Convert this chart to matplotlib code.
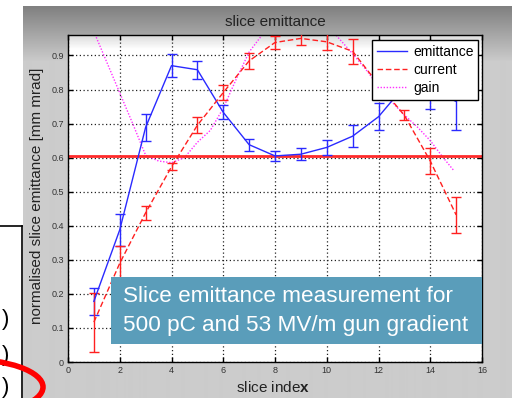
import numpy as np
import matplotlib.pyplot as plt
from matplotlib.patches import Rectangle, Ellipse
from matplotlib.lines import Line2D

plt.rcParams['font.family'] = ['Liberation Sans', 'DejaVu Sans']
plt.rcParams['mathtext.fontset'] = 'custom'
plt.rcParams['mathtext.rm'] = 'Liberation Sans'
plt.rcParams['mathtext.bf'] = 'Liberation Sans:bold'

# slice index
slices = np.arange(1, 16)

# normalised slice emittance [mm mrad] and its error
emittance = [0.178, 0.388, 0.689, 0.870, 0.858, 0.733, 0.638, 0.605,
             0.610, 0.630, 0.663, 0.720, 0.810, 0.800, 0.765]
emittance_err = [0.040, 0.047, 0.040, 0.034, 0.027, 0.021, 0.018, 0.015,
                 0.017, 0.023, 0.032, 0.039, 0.030, 0.056, 0.085]

# slice current (normalised) and its error
current = [0.117, 0.290, 0.438, 0.573, 0.695, 0.791, 0.884, 0.938,
           0.950, 0.940, 0.912, 0.815, 0.724, 0.590, 0.432]
current_err = [0.087, 0.050, 0.020, 0.010, 0.023, 0.021, 0.023, 0.020,
               0.020, 0.025, 0.036, 0.030, 0.015, 0.037, 0.052]

# gain curve
gain_x = [1.0, 1.5, 2.0, 2.5, 3.0, 3.5, 4.0, 4.5, 5.0, 5.5, 6.0, 6.5, 7.0,
          7.5, 8.0, 9.0, 10.0, 11.0, 11.5, 12.0, 12.5, 13.0, 13.5, 14.0,
          14.5, 14.9]
gain_y = [0.97, 0.88, 0.79, 0.70, 0.607, 0.59, 0.585, 0.60, 0.645, 0.68,
          0.745, 0.83, 0.91, 0.96, 0.98, 1.00, 0.99, 0.905, 0.86, 0.81,
          0.765, 0.725, 0.69, 0.65, 0.60, 0.563]

level = 0.605

W, H = 520, 398
fig = plt.figure(figsize=(W / 100, H / 100), dpi=100, facecolor='white')

def fx(px):
    return px / W

def fy(py):
    return 1 - py / H

# gray window panel with darker gradient at the top
bg = fig.add_axes([fx(23), 0, fx(512) - fx(23), fy(6)], zorder=-2)
bg.axis('off')
ramp = np.concatenate([np.linspace(0.50, 0.79, 55), np.full(337, 0.80)])
bg.imshow(ramp[:, None], cmap='gray', vmin=0, vmax=1, aspect='auto',
          extent=(0, 1, 0, 1), interpolation='bilinear')

ax = fig.add_axes([fx(68), fy(362), fx(482) - fx(68), fy(35) - fy(362)])
ax.set_facecolor('white')
top_ramp = np.linspace(0.86, 1.0, 20)[:, None]
ax.imshow(top_ramp, cmap='gray', vmin=0, vmax=1, aspect='auto',
          extent=(0, 1, 0.955, 1), transform=ax.transAxes, zorder=0,
          interpolation='bilinear')

e = ax.errorbar(slices, emittance, yerr=emittance_err, color='#2a2aff',
                lw=1.0, capsize=3.6, elinewidth=1.0, zorder=3)
c = ax.errorbar(slices, current, yerr=current_err, color='#ff2020',
                lw=1.0, ls='--', dashes=(4, 2), capsize=3.6, elinewidth=1.0,
                zorder=3)
c[2][0].set_linestyle('-')
g, = ax.plot(gain_x, gain_y, color='#ff30ff', lw=1.0, ls=(0, (1, 1.2)),
             zorder=2)
ax.axhline(level, color='#ff2a2a', lw=2.0, zorder=2.5)

ax.set_xlim(0, 16)
ax.set_ylim(0, 0.96)
ax.set_xticks(np.arange(0, 17, 2))
ax.set_yticks(np.round(np.arange(0, 0.91, 0.1), 1))
ax.set_yticklabels(['0'] + [f'{v:.1f}' for v in np.arange(0.1, 0.91, 0.1)])
ax.grid(True, color='#222222', ls=(0, (1, 2)), lw=0.9)
ax.tick_params(direction='in', top=True, right=True, length=3.5, width=1,
               labelsize=6.5, labelcolor='#333333', pad=3)
for s in ax.spines.values():
    s.set_linewidth(1.0)

ax.legend([e[0], c[0], g], ['emittance', 'current', 'gain'],
          loc='upper right', bbox_to_anchor=(0.991, 0.985), fontsize=10,
          fancybox=False, edgecolor='black', framealpha=1,
          handlelength=2.2, borderpad=0.35, labelspacing=0.3,
          handletextpad=0.4, borderaxespad=0)

fig.text(fx(275), fy(22), 'slice emittance', fontsize=11, color='#222222',
         ha='center', va='center')
fig.text(fx(273), fy(388), r'slice inde$\mathbf{x}$', fontsize=11,
         color='#222222', ha='center', va='center')
fig.text(fx(37), fy(196), 'normalised slice emittance [mm mrad]',
         fontsize=11, color='#222222', rotation=90, ha='center', va='center')

# caption box over the lower part of the plot
fig.add_artist(Rectangle((fx(110.7), fy(344)), fx(481.7) - fx(110.7),
                         fy(276.7) - fy(344), transform=fig.transFigure,
                         facecolor='#5a9dba', edgecolor='none', zorder=5))
fig.text(fx(123), fy(297), 'Slice emittance measurement for', fontsize=16.2,
         color='white', ha='left', va='center', zorder=6)
fig.text(fx(123), fy(325), '500 pC and 53 MV/m gun gradient', fontsize=16.2,
         color='white', ha='left', va='center', zorder=6)

# neighbouring slide fragment on the left
fig.add_artist(Line2D([0, fx(22)], [fy(226), fy(226)], color='black', lw=1.2,
                      transform=fig.transFigure, zorder=4))
fig.add_artist(Line2D([fx(22), fx(22)], [fy(226), 0], color='black', lw=1.2,
                      transform=fig.transFigure, zorder=4))
for py in (320, 355, 388):
    fig.text(fx(6), fy(py), ')', fontsize=16, color='black', ha='center',
             va='center', zorder=4)
fig.add_artist(Ellipse((fx(-35), fy(387)), 2 * 78 / W, 2 * 28 / H,
                       transform=fig.transFigure, fill=False,
                       edgecolor='#ff0000', lw=4, zorder=6))

fig.savefig('out.png', dpi=100)
